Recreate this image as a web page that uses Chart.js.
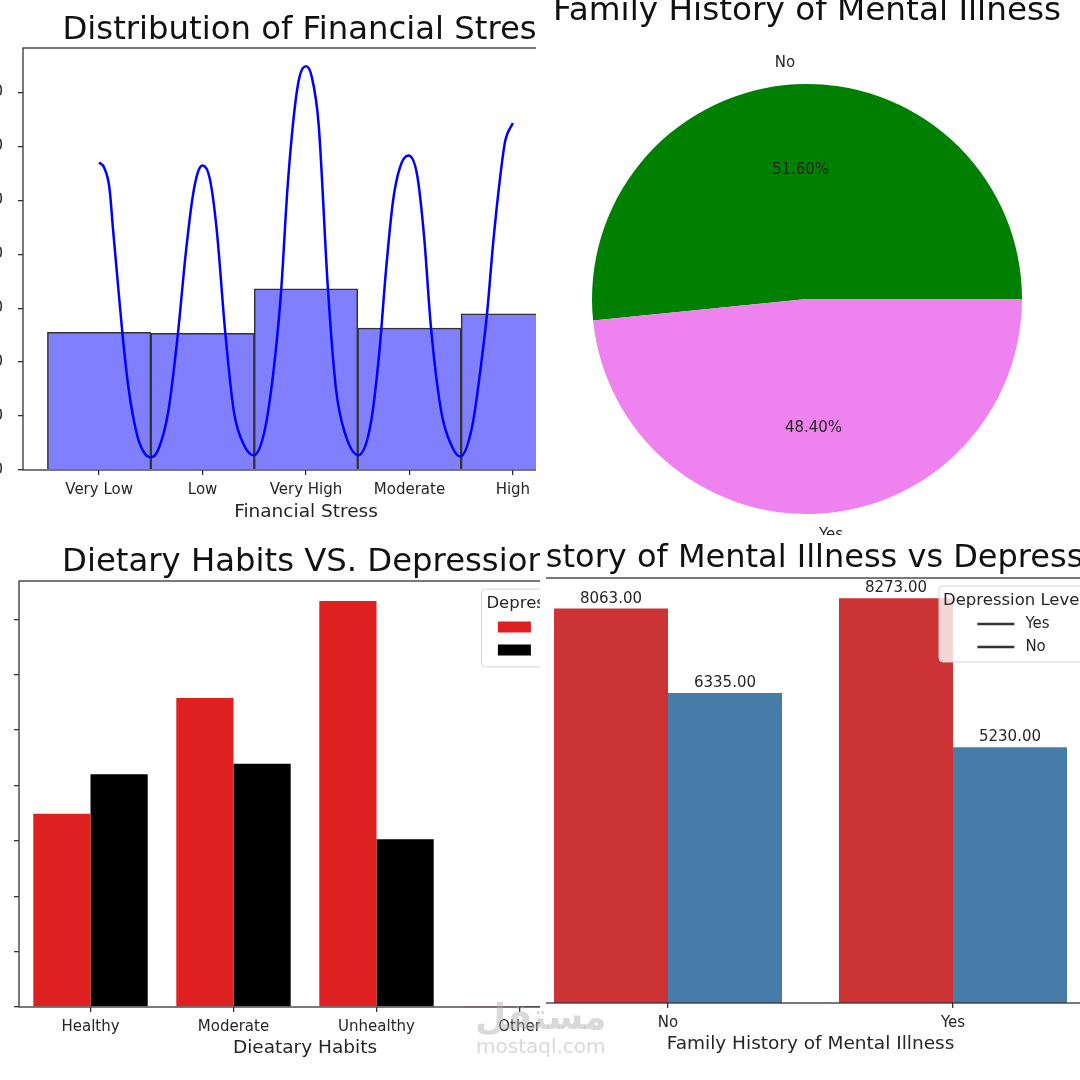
<!DOCTYPE html>
<html>
<head>
<meta charset="utf-8">
<script src="https://cdn.jsdelivr.net/npm/chart.js@4.4.1/dist/chart.umd.min.js"></script>
<style>
  body { margin: 0; background: #fff; width: 1080px; height: 1080px; overflow: hidden; position: relative; }
  .panel { position: absolute; overflow: hidden; background: #fff; }
  .panel canvas { position: absolute; }
  .mark { position: absolute; color: rgba(170, 170, 170, 0.45); font-family: "DejaVu Sans", sans-serif; font-weight: bold; white-space: nowrap; }
</style>
</head>
<body>
<div class="panel" style="left:0;top:0;width:536px;height:535px">
  <canvas id="stressChart" width="700" height="535" style="left:-60px;top:0;width:700px;height:535px"></canvas>
</div>
<div class="panel" style="left:536px;top:0;width:544px;height:535px">
  <canvas id="historyPie" width="544" height="535" style="left:0;top:0;width:544px;height:535px"></canvas>
</div>
<div class="panel" style="left:0;top:535px;width:540px;height:545px">
  <canvas id="dietChart" width="700" height="545" style="left:-60px;top:0;width:700px;height:545px"></canvas>
</div>
<div class="panel" style="left:546px;top:535px;width:534px;height:545px">
  <canvas id="familyChart" width="640" height="545" style="left:-66px;top:0;width:640px;height:545px"></canvas>
</div>
<div class="mark" style="left:475px;top:996px;font-size:36px">مستقل</div>
<div class="mark" style="left:476px;top:1034px;font-size:20px;font-weight:normal">mostaql.com</div>

<script>
const FONT = "'DejaVu Sans', sans-serif";
const INK = "#262626";

// financial stress histogram + kde
const stressLabels = ["Very Low", "Low", "Very High", "Moderate", "High"];
const stressPos = [0, 1, 2, 3, 4];
const stressCounts = [5110, 5070, 6720, 5260, 5790];
const stressYTicks = [0, 2000, 4000, 6000, 8000, 10000, 12000, 14000];
const kdeX = [0, 0.05, 0.1, 0.134, 0.184, 0.224, 0.284, 0.368, 0.434, 0.5, 0.568, 0.668, 0.762, 0.835, 0.902, 0.952,
  1.0, 1.069, 1.136, 1.22, 1.303, 1.404, 1.494, 1.604, 1.704, 1.761, 1.821, 1.888, 1.938, 2.0, 2.055, 2.122,
  2.212, 2.289, 2.373, 2.506, 2.623, 2.707, 2.774, 2.84, 2.907, 2.99, 3.074, 3.141, 3.208, 3.308, 3.408, 3.492,
  3.609, 3.693, 3.75, 3.81, 3.876, 3.926, 4.0];
const kdeY = [11410, 11200, 10450, 8940, 6800, 5110, 3040, 1280, 650, 470, 720, 2160, 5070, 7940, 10070, 11010,
  11290, 10820, 8940, 5070, 2160, 900, 550, 1530, 4290, 6720, 10450, 13330, 14590, 14970, 14590, 12830,
  6720, 3040, 1410, 550, 1660, 4290, 7430, 9940, 11200, 11660, 10950, 8690, 5300, 2160, 900, 500,
  1660, 3920, 5790, 8440, 10820, 12200, 12870];

// family history pie
const historyLabels = ["No", "Yes"];
const historyShare = [51.6, 48.4];

// dietary habits vs depression
const dietLabels = ["Healthy", "Moderate", "Unhealthy", "Other"];
const dietDepressed = [3490, 5580, 7330, 8];
const dietNotDepressed = [4200, 4390, 3030, 4];
const dietYTicks = [0, 1000, 2000, 3000, 4000, 5000, 6000, 7000];

// family history vs depression
const familyLabels = ["No", "Yes"];
const familyDepYes = [8063, 8273];
const familyDepNo = [6335, 5230];

// box round the plot area, like matplotlib spines
const frame = {
  id: "frame",
  afterDatasetsDraw(chart) {
    const { ctx, chartArea: a } = chart;
    ctx.save();
    ctx.strokeStyle = "#333";
    ctx.lineWidth = 1.3;
    ctx.strokeRect(a.left, a.top, a.right - a.left, a.bottom - a.top);
    ctx.restore();
  }
};

// title above the plot area
const topTitle = {
  id: "topTitle",
  afterDraw(chart, args, o) {
    const { ctx, chartArea: a } = chart;
    ctx.save();
    ctx.font = `${o.size}px ${FONT}`;
    ctx.fillStyle = "#111";
    ctx.textAlign = "center";
    ctx.textBaseline = "alphabetic";
    ctx.fillText(o.text, (a.left + a.right) / 2 + (o.dx || 0), o.y);
    ctx.restore();
  }
};

// legend box in the upper right corner of the plot
const boxLegend = {
  id: "boxLegend",
  afterDraw(chart, args, o) {
    const { ctx, chartArea: a } = chart;
    const right = a.right - 7.5, top = a.top + 8, left = right - o.width, h = o.height, r = 4;
    ctx.save();
    ctx.beginPath();
    ctx.moveTo(left + r, top);
    ctx.arcTo(right, top, right, top + h, r);
    ctx.arcTo(right, top + h, left, top + h, r);
    ctx.arcTo(left, top + h, left, top, r);
    ctx.arcTo(left, top, right, top, r);
    ctx.closePath();
    ctx.fillStyle = "rgba(255,255,255,0.8)";
    ctx.fill();
    ctx.strokeStyle = "#d4d4d4";
    ctx.lineWidth = 1;
    ctx.stroke();
    ctx.font = `16.5px ${FONT}`;
    ctx.fillStyle = INK;
    ctx.textAlign = "center";
    ctx.textBaseline = "alphabetic";
    ctx.fillText(o.title, left + o.width / 2, top + 19);
    ctx.font = `15px ${FONT}`;
    const labelW = Math.max(...o.items.map(it => ctx.measureText(it.label).width));
    const bx = left + (o.width - (o.handle + o.gap + labelW)) / 2;
    o.items.forEach((it, i) => {
      const y = top + 38 + i * 23;
      if (it.kind === "line") {
        ctx.strokeStyle = it.color;
        ctx.lineWidth = 2.5;
        ctx.beginPath();
        ctx.moveTo(bx, y);
        ctx.lineTo(bx + o.handle, y);
        ctx.stroke();
      } else {
        ctx.fillStyle = it.color;
        ctx.fillRect(bx, y - 5.5, o.handle, 11);
      }
      ctx.fillStyle = INK;
      ctx.textAlign = "left";
      ctx.textBaseline = "middle";
      ctx.fillText(it.label, bx + o.handle + o.gap, y);
    });
    ctx.restore();
  }
};

const tickFont = { family: FONT, size: 15 };
const labelFont = { family: FONT, size: 18.5 };
const tickGrid = { drawOnChartArea: false, drawTicks: true, tickLength: 5, color: "#333", lineWidth: 1.3, offset: false };

// ---------- top left: histogram ----------
new Chart(document.getElementById("stressChart"), {
  type: "bar",
  data: {
    datasets: [
      {
        type: "line",
        data: kdeX.map((x, i) => ({ x, y: kdeY[i] })),
        borderColor: "#0000ff",
        borderWidth: 2.5,
        pointRadius: 0,
        cubicInterpolationMode: "monotone",
        order: 0
      },
      {
        data: stressPos.map((x, i) => ({ x, y: stressCounts[i] })),
        backgroundColor: "#8080ff",
        borderColor: "#333",
        borderWidth: 1.5,
        barPercentage: 1,
        categoryPercentage: 1,
        order: 1
      }
    ]
  },
  options: {
    responsive: false,
    animation: false,
    layout: { padding: { left: 0, right: 51, top: 48, bottom: 0 } },
    plugins: {
      legend: { display: false },
      tooltip: { enabled: false },
      topTitle: { text: "Distribution of Financial Stress", size: 32.3, y: 39, dx: 2 }
    },
    scales: {
      x: {
        type: "linear",
        offset: false,
        min: -0.736,
        max: 4.736,
        afterBuildTicks: s => { s.ticks = stressPos.map(v => ({ value: v })); },
        afterFit: s => { s.height = 65; },
        ticks: { font: tickFont, color: INK, padding: 6, autoSkip: false, maxRotation: 0,
          callback: (v, i) => stressLabels[i] },
        grid: tickGrid,
        border: { display: false },
        title: { display: true, text: "Financial Stress", font: labelFont, color: INK, padding: { top: 0, bottom: 12 } }
      },
      y: {
        min: 0,
        max: 15650,
        afterBuildTicks: s => { s.ticks = stressYTicks.map(v => ({ value: v })); },
        afterFit: s => { s.width = 83; },
        ticks: { font: tickFont, color: INK, padding: 15, callback: v => String(v) },
        grid: tickGrid,
        border: { display: false }
      }
    }
  },
  plugins: [frame, topTitle]
});

// ---------- top right: pie ----------
const pieLabels = {
  id: "pieLabels",
  afterDatasetsDraw(chart) {
    const { ctx } = chart;
    const meta = chart.getDatasetMeta(0);
    ctx.save();
    ctx.font = `15px ${FONT}`;
    ctx.fillStyle = INK;
    ctx.textBaseline = "middle";
    meta.data.forEach((arc, i) => {
      const { x, y, startAngle, endAngle, outerRadius } = arc.getProps(["x", "y", "startAngle", "endAngle", "outerRadius"], true);
      const mid = (startAngle + endAngle) / 2;
      const lx = x + Math.cos(mid) * outerRadius * 1.1;
      const ly = y + Math.sin(mid) * outerRadius * 1.1;
      ctx.textAlign = lx < x ? "right" : "left";
      ctx.fillText(historyLabels[i], lx, ly);
      ctx.textAlign = "center";
      ctx.fillText(historyShare[i].toFixed(2) + "%", x + Math.cos(mid) * outerRadius * 0.6, y + Math.sin(mid) * outerRadius * 0.6);
    });
    ctx.restore();
  }
};

new Chart(document.getElementById("historyPie"), {
  type: "pie",
  data: {
    labels: historyLabels,
    datasets: [{ data: historyShare, backgroundColor: ["#008000", "#ee82ee"], borderWidth: 0 }]
  },
  options: {
    responsive: false,
    animation: false,
    // matplotlib starts at 3 o'clock and goes anticlockwise
    rotation: 90 + 180 - historyShare[0] / 100 * 360 + 180,
    layout: { padding: { left: 56, right: 58, top: 84, bottom: 21 } },
    plugins: {
      legend: { display: false },
      tooltip: { enabled: false },
      topTitle: { text: "Family History of Mental Illness", size: 32.7, y: 19.5 }
    }
  },
  plugins: [pieLabels, topTitle]
});

// ---------- bottom left: grouped bars ----------
new Chart(document.getElementById("dietChart"), {
  type: "bar",
  data: {
    labels: dietLabels,
    datasets: [
      { label: "Yes", data: dietDepressed, backgroundColor: "#df2020", barPercentage: 1, categoryPercentage: 0.8 },
      { label: "No", data: dietNotDepressed, backgroundColor: "#000000", barPercentage: 1, categoryPercentage: 0.8 }
    ]
  },
  options: {
    responsive: false,
    animation: false,
    layout: { padding: { left: 0, right: 49, top: 46, bottom: 0 } },
    plugins: {
      legend: { display: false },
      tooltip: { enabled: false },
      topTitle: { text: "Dietary Habits VS. Depression", size: 32.3, y: 36 },
      boxLegend: {
        title: "Depression", width: 102, height: 78, handle: 33, gap: 12,
        items: [
          { label: "Yes", color: "#df2020", kind: "patch" },
          { label: "No", color: "#000000", kind: "patch" }
        ]
      }
    },
    scales: {
      x: {
        afterFit: s => { s.height = 73; },
        ticks: { font: tickFont, color: INK, padding: 6, autoSkip: false, maxRotation: 0 },
        grid: tickGrid,
        border: { display: false },
        title: { display: true, text: "Dieatary Habits", font: labelFont, color: INK, padding: { top: 0, bottom: 21 } }
      },
      y: {
        min: 0,
        max: 7690,
        afterBuildTicks: s => { s.ticks = dietYTicks.map(v => ({ value: v })); },
        afterFit: s => { s.width = 79; },
        ticks: { font: tickFont, color: INK, padding: 30, callback: v => String(v) },
        grid: tickGrid,
        border: { display: false }
      }
    }
  },
  plugins: [frame, topTitle, boxLegend]
});

// ---------- bottom right: grouped bars with values ----------
const barValues = {
  id: "barValues",
  afterDatasetsDraw(chart) {
    const { ctx } = chart;
    ctx.save();
    ctx.font = `15px ${FONT}`;
    ctx.fillStyle = INK;
    ctx.textAlign = "center";
    ctx.textBaseline = "alphabetic";
    chart.data.datasets.forEach((ds, di) => {
      chart.getDatasetMeta(di).data.forEach((bar, i) => {
        ctx.fillText(ds.data[i].toFixed(2), bar.x, bar.y - 6);
      });
    });
    ctx.restore();
  }
};

new Chart(document.getElementById("familyChart"), {
  type: "bar",
  data: {
    labels: familyLabels,
    datasets: [
      { label: "Yes", data: familyDepYes, backgroundColor: "#cb3335", barPercentage: 1, categoryPercentage: 0.8 },
      { label: "No", data: familyDepNo, backgroundColor: "#477ca8", barPercentage: 1, categoryPercentage: 0.8 }
    ]
  },
  options: {
    responsive: false,
    animation: false,
    layout: { padding: { left: 45.5, right: 24.5, top: 43, bottom: 0 } },
    plugins: {
      legend: { display: false },
      tooltip: { enabled: false },
      topTitle: { text: "History of Mental Illness vs Depression", size: 32, y: 32, dx: 12 },
      boxLegend: {
        title: "Depression Level", width: 149, height: 76, handle: 37, gap: 11,
        items: [
          { label: "Yes", color: "#333", kind: "line" },
          { label: "No", color: "#333", kind: "line" }
        ]
      }
    },
    scales: {
      x: {
        afterFit: s => { s.height = 77; },
        ticks: { font: tickFont, color: INK, padding: 6, autoSkip: false, maxRotation: 0 },
        grid: tickGrid,
        border: { display: false },
        title: { display: true, text: "Family History of Mental Illness", font: labelFont, color: INK, padding: { top: 0, bottom: 25 } }
      },
      y: { display: false, min: 0, max: 8687 }
    }
  },
  plugins: [frame, barValues, topTitle, boxLegend]
});
</script>
</body>
</html>
